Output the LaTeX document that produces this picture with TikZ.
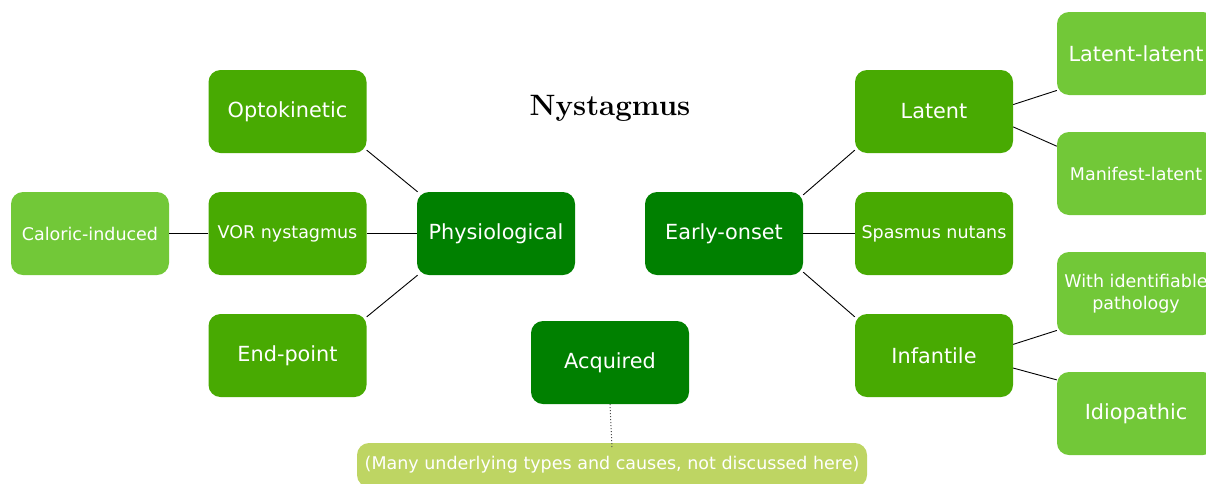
\documentclass[tikz,border=0pt]{standalone}
\usepackage{fontspec}
\setmainfont{DejaVu Sans}
\newfontfamily\titlefont{Latin Modern Roman}
\definecolor{dkgreen}{RGB}{0,128,0}
\definecolor{mdgreen}{RGB}{72,170,2}
\definecolor{ltgreen}{RGB}{114,200,56}
\definecolor{olgreen}{RGB}{190,213,99}
\tikzset{
  boxbase/.style={rectangle, rounded corners=12pt, minimum width=158pt, minimum height=83pt, inner sep=2pt, align=center, text=white, font=\fontsize{20.8}{25}\selectfont},
  lvlone/.style={boxbase, fill=dkgreen},
  lvltwo/.style={boxbase, fill=mdgreen},
  lvlthree/.style={boxbase, fill=ltgreen},
  smalltxt/.style={font=\fontsize{17.5}{21.5}\selectfont},
  link/.style={draw=black, line width=0.9pt}
}
\begin{document}
\begin{tikzpicture}[x=1pt,y=-1pt]
\clip (0,0) rectangle (1206,483);
\node[font=\titlefont\bfseries\fontsize{29.5}{33}\selectfont] (title) at (610,108) {Nystagmus};
% physiological branch
\node[lvlone] (phys) at (496,233.5) {Physiological};
\node[lvltwo] (opto) at (287.5,111.5) {Optokinetic};
\node[lvltwo, smalltxt] (vor) at (287.5,233.5) {VOR nystagmus};
\node[lvltwo] (endp) at (287.5,355.5) {End-point};
\node[lvlthree, smalltxt] (calo) at (90,233.5) {Caloric-induced};
% early onset branch
\node[lvlone] (early) at (724,233.5) {Early-onset};
\node[lvltwo] (latent) at (934,111.5) {Latent};
\node[lvltwo, smalltxt] (spasm) at (934,233.5) {Spasmus nutans};
\node[lvltwo] (infant) at (934,355.5) {Infantile};
\node[lvlthree] (latlat) at (1136,53.5) {Latent-latent};
\node[lvlthree, smalltxt] (manlat) at (1136,173.5) {Manifest-latent};
\node[lvlthree, smalltxt] (withpath) at (1136,293.5) {With identifiable\\pathology};
\node[lvlthree] (idio) at (1136,413.5) {Idiopathic};
% acquired
\node[lvlone] (acq) at (610,362.5) {Acquired};
\node[boxbase, fill=olgreen, smalltxt, minimum width=510pt, minimum height=44pt] (many) at (612,465) {(Many underlying types and causes, not discussed here)};
% connectors
\draw[link] (phys.152) -- (opto.-26);
\draw[link] (phys.west) -- (vor.east);
\draw[link] (phys.-152) -- (endp.26);
\draw[link] (vor.west) -- (calo.east);
\draw[link] (early.26) -- (latent.206);
\draw[link] (early.east) -- (spasm.west);
\draw[link] (early.-26) -- (infant.154);
\draw[link] (latent.5) -- (latlat.205);
\draw[link] (latent.-11) -- (manlat.161);
\draw[link] (infant.8) -- (withpath.205);
\draw[link] (infant.-9) -- (idio.157);
\draw[draw=gray!60!black, line width=1pt, dotted] (acq.south) -- ([yshift=-5pt]many.north);
\end{tikzpicture}
\end{document}
